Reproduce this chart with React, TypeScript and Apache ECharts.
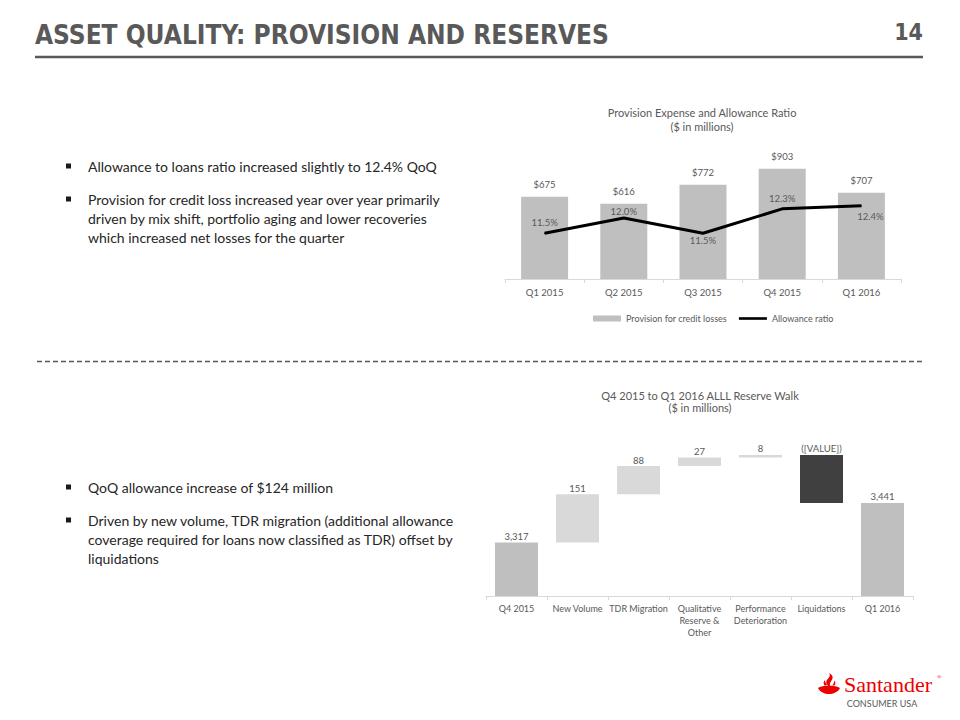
import React, { useEffect, useRef } from "react";
import * as echarts from "echarts";

const quarters = ["Q1 2015", "Q2 2015", "Q3 2015", "Q4 2015", "Q1 2016"];
const provision = [675, 616, 772, 903, 707];
const allowanceRatio = [11.5, 12.0, 11.5, 12.3, 12.4];

const walkCategories = [
  "Q4 2015",
  "New Volume",
  "TDR Migration",
  "Qualitative\nReserve &\nOther",
  "Performance\nDeterioration",
  "Liquidations",
  "Q1 2016",
];
const walkValues = [3317, 151, 88, 27, 8, -150, 3441];
const walkLabels = ["3,317", "151", "88", "27", "8", "([VALUE])", "3,441"];
const walkIsTotal = [true, false, false, false, false, false, true];

const bulletsTop = [
  ["Allowance to loans ratio increased slightly to 12.4% QoQ"],
  [
    "Provision for credit loss increased year over year primarily",
    "driven by mix shift, portfolio aging and lower recoveries",
    "which increased net losses for the quarter",
  ],
];
const bulletsBottom = [
  ["QoQ allowance increase of $124 million"],
  [
    "Driven by new volume, TDR migration (additional allowance",
    "coverage required for loans now classified as TDR) offset by",
    "liquidations",
  ],
];

const FONT = "Lato, 'Open Sans', sans-serif";
const HEAD_FONT = "'Liberation Sans Narrow', 'DejaVu Sans Condensed', sans-serif";
const GRAY = "#595959";

function bulletGraphics(groups: string[][], ys: number[][]) {
  const out: any[] = [];
  groups.forEach((lines, gi) => {
    out.push({
      type: "rect",
      shape: { x: 66, y: ys[gi][0] - 2.5, width: 5, height: 5 },
      style: { fill: "#1a1a1a" },
    });
    lines.forEach((t, li) => {
      out.push({
        type: "text",
        x: 88,
        y: ys[gi][li],
        style: {
          text: t,
          fill: "#262626",
          font: `14px ${FONT}`,
          textVerticalAlign: "middle",
        },
      });
    });
  });
  return out;
}

export default function App() {
  const ref = useRef<HTMLDivElement>(null);
  useEffect(() => {
    if (!ref.current) return;
    const chart = echarts.init(ref.current, undefined, { renderer: "svg" });

    // waterfall helpers
    const base: number[] = [];
    const height: number[] = [];
    let running = 0;
    walkValues.forEach((v, i) => {
      if (walkIsTotal[i]) {
        base.push(0);
        height.push(v);
        running = v;
      } else if (v >= 0) {
        base.push(running);
        height.push(v);
        running += v;
      } else {
        base.push(running + v);
        height.push(-v);
        running += v;
      }
    });
    const walkColors = walkValues.map((v, i) =>
      walkIsTotal[i] ? "#bfbfbf" : v >= 0 ? "#d9d9d9" : "#404040"
    );

    const ratioLabelPos: any[] = [
      { position: "top", distance: 5 },
      { position: "top", distance: 1 },
      { position: "bottom", distance: 2 },
      { position: "top", distance: 5 },
      { position: "bottom", distance: 5, offset: [9, 0] },
    ];

    const flamePath =
      "M0,15 C4,11.5 18,11.5 22,15 C20,19 15,21 11,21 C7,21 2,19 0,15 Z " +
      "M10.5,13 C7,10 8,7.5 10.5,5 C12.5,3 12,1 11,0 C15,2 15.5,5 13.5,7.5 C12,9.5 11.5,11 12,13 Z " +
      "M6.5,12.5 C5,10.5 5.5,8.5 7,7 C7,9 8,10.5 9,12 Z " +
      "M14.5,12.2 C15.5,10.5 16.5,9.5 16,7.5 C18,9 17.5,11 16.5,12.4 Z";
    try {
      echarts.graphic.registerShape(
        "santanderFlame",
        (echarts.graphic as any).extendPath(flamePath, {})
      );
    } catch (e) {}

    const option: any = {
      animation: false,
      backgroundColor: "#ffffff",
      textStyle: { fontFamily: FONT },
      grid: [
        { left: 505, top: 157, width: 396, height: 122 },
        { left: 486, top: 436, width: 427, height: 160 },
      ],
      legend: {
        left: 588,
        top: 309,
        itemWidth: 28,
        itemHeight: 6,
        itemGap: 12,
        symbolKeepAspect: true,
        textStyle: { color: GRAY, fontSize: 9, fontFamily: FONT },
        data: [
          { name: "Provision for credit losses", icon: "rect" },
          {
            name: "Allowance ratio",
            icon: "path://M0,0 L32,0 L32,3 L0,3 Z",
          },
        ],
      },
      xAxis: [
        {
          gridIndex: 0,
          type: "category",
          data: quarters,
          axisLine: { lineStyle: { color: "#d9d9d9" } },
          axisTick: { show: true, length: 4, lineStyle: { color: "#d9d9d9" } },
          axisLabel: { color: GRAY, fontSize: 9.5, margin: 8 },
        },
        {
          gridIndex: 1,
          type: "category",
          data: walkCategories,
          axisLine: { lineStyle: { color: "#d9d9d9" } },
          axisTick: { show: true, length: 4, lineStyle: { color: "#d9d9d9" } },
          axisLabel: {
            color: GRAY,
            fontSize: 9,
            margin: 6,
            lineHeight: 12,
            interval: 0,
          },
        },
      ],
      yAxis: [
        { gridIndex: 0, type: "value", min: 0, max: 1000, show: false },
        { gridIndex: 0, type: "value", min: 10, max: 14, show: false },
        { gridIndex: 1, type: "value", min: 3150, max: 3650, show: false },
      ],
      series: [
        {
          name: "Provision for credit losses",
          type: "bar",
          xAxisIndex: 0,
          yAxisIndex: 0,
          data: provision,
          barWidth: 47,
          itemStyle: { color: "#bfbfbf" },
          label: {
            show: true,
            position: "top",
            distance: 7,
            color: GRAY,
            fontSize: 9.5,
            formatter: (p: any) => "$" + p.value,
          },
        },
        {
          name: "Allowance ratio",
          type: "line",
          xAxisIndex: 0,
          yAxisIndex: 1,
          symbol: "circle",
          symbolSize: 1,
          showSymbol: true,
          lineStyle: { color: "#000000", width: 3 },
          itemStyle: { color: "#000000" },
          data: allowanceRatio.map((v, i) => ({
            value: v,
            label: ratioLabelPos[i],
          })),
          label: {
            show: true,
            color: GRAY,
            fontSize: 9.5,
            formatter: (p: any) => Number(p.value).toFixed(1) + "%",
          },
        },
        {
          name: "walkBase",
          type: "bar",
          xAxisIndex: 1,
          yAxisIndex: 2,
          stack: "walk",
          barWidth: 43,
          clip: true,
          silent: true,
          itemStyle: { color: "transparent" },
          data: base,
        },
        {
          name: "walk",
          type: "bar",
          xAxisIndex: 1,
          yAxisIndex: 2,
          stack: "walk",
          barWidth: 43,
          clip: true,
          data: height.map((h, i) => ({
            value: h,
            itemStyle: { color: walkColors[i] },
          })),
          label: {
            show: true,
            position: "top",
            distance: 1,
            color: GRAY,
            fontSize: 9.5,
            formatter: (p: any) => walkLabels[p.dataIndex],
          },
        },
      ],
      graphic: [
        {
          type: "text",
          x: 35,
          y: 35,
          style: {
            text: "ASSET QUALITY: PROVISION AND RESERVES",
            fill: GRAY,
            font: `bold 26px ${HEAD_FONT}`,
            textVerticalAlign: "middle",
          },
        },
        {
          type: "text",
          x: 923,
          y: 32,
          style: {
            text: "14",
            fill: GRAY,
            font: `bold 23px ${HEAD_FONT}`,
            textAlign: "right",
            textVerticalAlign: "middle",
          },
        },
        {
          type: "line",
          shape: { x1: 35, y1: 57, x2: 923, y2: 57 },
          style: { stroke: GRAY, lineWidth: 2.5 },
        },
        {
          type: "line",
          shape: { x1: 37, y1: 361.5, x2: 925, y2: 361.5 },
          style: { stroke: GRAY, lineWidth: 1.5, lineDash: [5, 3] },
        },
        {
          type: "text",
          x: 702,
          y: 112,
          style: {
            text: "Provision Expense and Allowance Ratio",
            fill: GRAY,
            font: `11px ${FONT}`,
            textAlign: "center",
            textVerticalAlign: "middle",
          },
        },
        {
          type: "text",
          x: 702,
          y: 126,
          style: {
            text: "($ in millions)",
            fill: GRAY,
            font: `11px ${FONT}`,
            textAlign: "center",
            textVerticalAlign: "middle",
          },
        },
        {
          type: "text",
          x: 700,
          y: 395,
          style: {
            text: "Q4 2015 to Q1 2016 ALLL Reserve Walk",
            fill: GRAY,
            font: `11px ${FONT}`,
            textAlign: "center",
            textVerticalAlign: "middle",
          },
        },
        {
          type: "text",
          x: 700,
          y: 407,
          style: {
            text: "($ in millions)",
            fill: GRAY,
            font: `11px ${FONT}`,
            textAlign: "center",
            textVerticalAlign: "middle",
          },
        },
        ...bulletGraphics(bulletsTop, [[166], [199, 218, 237]]),
        ...bulletGraphics(bulletsBottom, [[487], [520, 539, 558]]),
        {
          type: "santanderFlame",
          x: 818,
          y: 673,
          scaleX: 1,
          scaleY: 1,
          style: { fill: "#ec0000" },
        },
        {
          type: "text",
          x: 844,
          y: 684,
          style: {
            text: "Santander",
            fill: "#ec0000",
            font: "22px 'Liberation Serif', serif",
            textVerticalAlign: "middle",
          },
        },
        {
          type: "text",
          x: 937,
          y: 677,
          style: {
            text: "®",
            fill: "#ec0000",
            font: "6px 'Liberation Serif', serif",
            textVerticalAlign: "middle",
          },
        },
        {
          type: "text",
          x: 882,
          y: 703,
          style: {
            text: "CONSUMER USA",
            fill: GRAY,
            font: `9px ${FONT}`,
            textAlign: "center",
            textVerticalAlign: "middle",
          },
        },
      ],
    };
    chart.setOption(option);
    return () => chart.dispose();
  }, []);
  return (
    <div
      ref={ref}
      style={{ position: "absolute", left: 0, top: 0, width: 960, height: 720 }}
    />
  );
}
